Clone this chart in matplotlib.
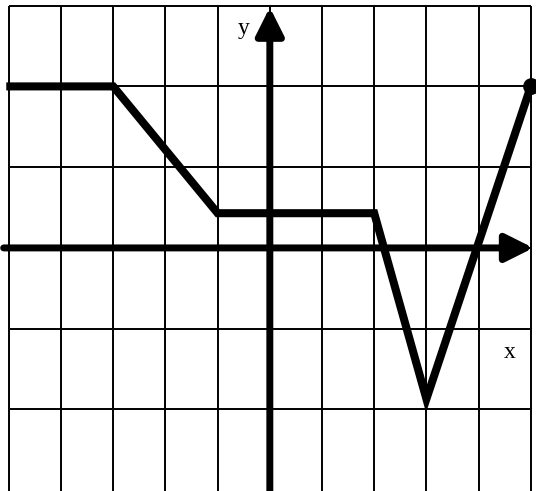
import matplotlib
matplotlib.use("Agg")
import matplotlib.pyplot as plt

# piecewise function vertices
xs = [-5.05, -3.0, -1.0, 2.0, 3.0, 5.0]
ys = [2.0, 2.0, 0.43, 0.43, -1.87, 2.0]
end_point = (5.0, 2.0)

grid_x = list(range(-5, 6))
grid_y = list(range(-2, 4))

fig = plt.figure(figsize=(5.36, 4.91), dpi=100)
ax = fig.add_axes([0, 0, 1, 1])
ax.set_xlim(-5.17, 5.10)
ax.set_ylim(-3.01, 3.07)
ax.axis('off')

# grid
for gx in grid_x:
    ax.plot([gx, gx], [-3.2, 3], color='black', lw=1.4, solid_capstyle='butt', zorder=1)
for gy in grid_y:
    ax.plot([-5, 5], [gy, gy], color='black', lw=1.4, solid_capstyle='butt', zorder=1)

# axes with arrows
ax.annotate('', xy=(5.05, 0), xytext=(-5.1, 0),
            arrowprops=dict(arrowstyle='-|>,head_length=0.4,head_width=0.2',
                            lw=5, color='black', shrinkA=0, shrinkB=0,
                            mutation_scale=42), zorder=3)
ax.annotate('', xy=(0, 2.98), xytext=(0, -3.2),
            arrowprops=dict(arrowstyle='-|>,head_length=0.4,head_width=0.2',
                            lw=5, color='black', shrinkA=0, shrinkB=0,
                            mutation_scale=42), zorder=3)

# function graph
ax.plot(xs, ys, color='black', lw=5.8, solid_joinstyle='miter',
        solid_capstyle='butt', zorder=4)
ax.plot([end_point[0]], [end_point[1]], 'o', color='black', markersize=11, zorder=5)

# labels
ax.text(-0.5, 2.72, 'y', fontsize=17, family='Liberation Serif', ha='center', va='center')
ax.text(4.6, -1.29, 'x', fontsize=17, family='Liberation Serif', ha='center', va='center')

fig.savefig('out.png', dpi=100, facecolor='white')
